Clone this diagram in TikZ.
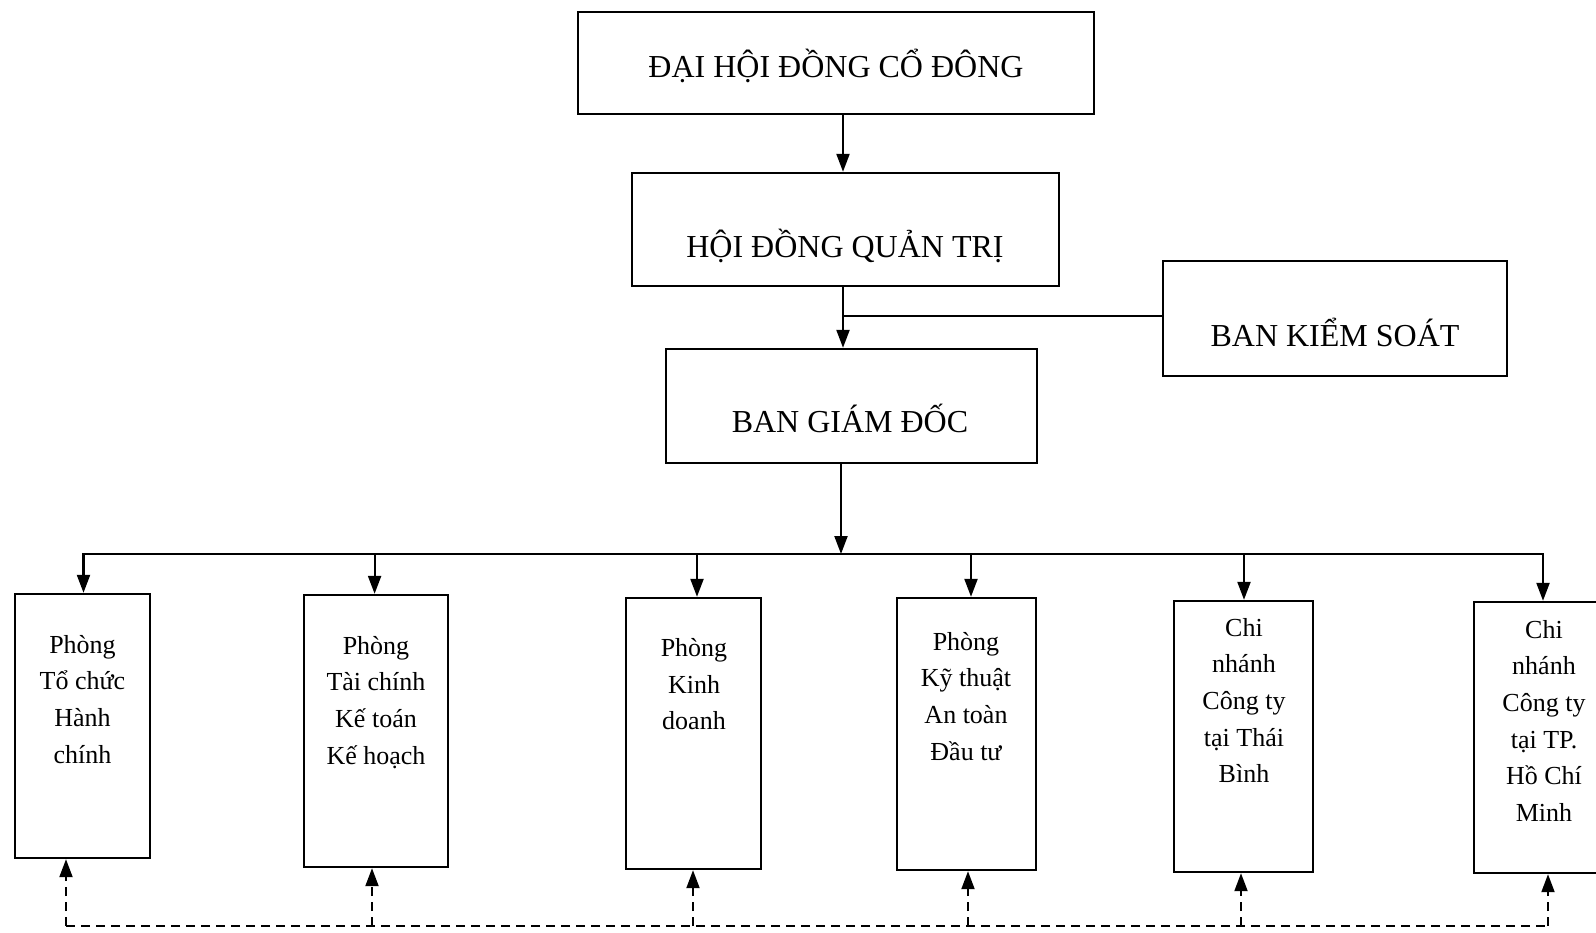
\documentclass[tikz,border=0pt]{standalone}
\usepackage{fontspec}
\setmainfont{Liberation Serif}
\usetikzlibrary{arrows.meta,fit}
\begin{document}
\begin{tikzpicture}[x=1pt,y=-1pt,
  box/.style={draw, line width=2.4pt, inner sep=0pt},
  big/.style={font=\fontsize{32}{38}\selectfont, anchor=base, inner sep=0pt},
  small/.style={font=\fontsize{26}{36.6}\selectfont, align=center, anchor=north, inner sep=0pt},
  conn/.style={line width=2.2pt},
  arr/.style={conn, -{Triangle[length=18pt,width=13pt]}},
  dline/.style={line width=2pt, dash pattern=on 9pt off 6pt},
  darr/.style={dline, -{Triangle[length=18pt,width=13pt]}}]
\useasboundingbox (0,0) rectangle (1596,932);
\fill[white] (0,0) rectangle (1596,932);
\clip (0,0) rectangle (1596,932);

% top boxes
\node[box, fit={(578,12) (1094,114)}] (dhdcd) {};
\node[big] (tdhdcd) at (836,77.6) {ĐẠI HỘI ĐỒNG CỔ ĐÔNG};
\node[box, fit={(632,173) (1059,286)}] (hdqt) {};
\node[big] (thdqt) at (845,257) {HỘI ĐỒNG QUẢN TRỊ};
\node[box, fit={(1163,261) (1507,376)}] (bks) {};
\node[big] (tbks) at (1335,346) {BAN KIỂM SOÁT};
\node[box, fit={(666,349) (1037,463)}] (bgd) {};
\node[big] (tbgd) at (850,432) {BAN GIÁM ĐỐC};

% bottom boxes
\node[box, fit={(15,594) (150,858)}] (b1) {};
\node[box, fit={(304,595) (448,867)}] (b2) {};
\node[box, fit={(626,598) (761,869)}] (b3) {};
\node[box, fit={(897,598) (1036,870)}] (b4) {};
\node[box, fit={(1174,601) (1313,872)}] (b5) {};
\node[box, fit={(1474,602) (1625,873)}] (b6) {};

\node[small] (t1) at (82.5,635) {Phòng\\Tổ chức\\Hành\\chính};
\node[small] (t2) at (376,636) {Phòng\\Tài chính\\Kế toán\\Kế hoạch};
\node[small] (t3) at (694,638.5) {Phòng\\Kinh\\doanh};
\node[small] (t4) at (966,632) {Phòng\\Kỹ thuật\\An toàn\\Đầu tư};
\node[small] (t5) at (1244,618) {Chi\\nhánh\\Công ty\\tại Thái\\Bình};
\node[small] (t6) at (1544,620) {Chi\\nhánh\\Công ty\\tại TP.\\Hồ Chí\\Minh};

% spine
\coordinate (sp) at (843,0);
\draw[arr] (dhdcd.south -| sp) -- (hdqt.north -| sp);
\draw[arr] (hdqt.south -| sp) -- (bgd.north -| sp);
\coordinate (kj) at (843,316);
\draw[conn] (kj) -- (kj -| bks.west);

% bus
\coordinate (bj) at (841,554);
\draw[arr] (bgd.south -| bj) -- (bj);
\coordinate (u1) at (83.5,554);
\coordinate (u2) at (374.6,554);
\coordinate (u3) at (697,554);
\coordinate (u4) at (971,554);
\coordinate (u5) at (1244,554);
\coordinate (u6) at (1543,554);
\draw[conn, line cap=rect] (u1) -- (u6);
\draw[arr] (u1) -- (u1 |- b1.north);
\draw[arr] (u2) -- (u2 |- b2.north);
\draw[arr] (u3) -- (u3 |- b3.north);
\draw[arr] (u4) -- (u4 |- b4.north);
\draw[arr] (u5) -- (u5 |- b5.north);
\draw[arr] (u6) -- (u6 |- b6.north);

% dashed feedback
\coordinate (d1) at (66,926);
\coordinate (d2) at (372,926);
\coordinate (d3) at (693,926);
\coordinate (d4) at (968,926);
\coordinate (d5) at (1241,926);
\coordinate (d6) at (1548,926);
\draw[dline] (d1) -- (d6);
\draw[darr] (d1) -- (d1 |- b1.south);
\draw[darr] (d2) -- (d2 |- b2.south);
\draw[darr] (d3) -- (d3 |- b3.south);
\draw[darr] (d4) -- (d4 |- b4.south);
\draw[darr] (d5) -- (d5 |- b5.south);
\draw[darr] (d6) -- (d6 |- b6.south);
\end{tikzpicture}
\end{document}
